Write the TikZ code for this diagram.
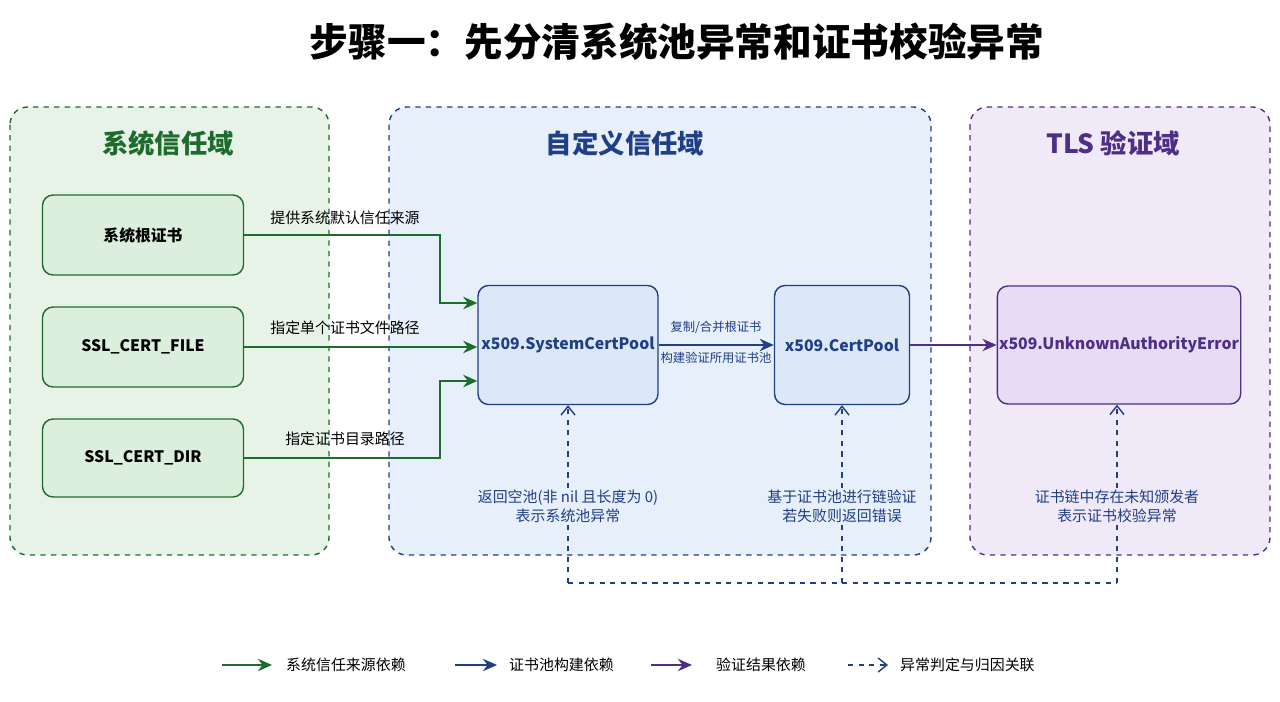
\documentclass[tikz,border=0pt]{standalone}
\usepackage{fontspec}
\setmainfont{Noto Sans CJK SC}
\usetikzlibrary{arrows.meta,positioning,backgrounds}
\definecolor{gdark}{HTML}{1E6B2E}
\definecolor{gfill}{HTML}{E6F3E6}
\definecolor{gbox}{HTML}{DCEEDC}
\definecolor{bdark}{HTML}{1F3F86}
\definecolor{bfill}{HTML}{E6EFFA}
\definecolor{bbox}{HTML}{DCE8F8}
\definecolor{pdark}{HTML}{4E2E86}
\definecolor{pfill}{HTML}{F0EAF8}
\definecolor{pbox}{HTML}{E6DCF3}
\tikzset{
  domain/.style={draw=#1,dashed,thick,rounded corners=10pt},
  box/.style={draw=#1,thick,rounded corners=6pt,align=center,inner sep=1pt,font=\bfseries\fontsize{9}{12}\selectfont},
  garrow/.style={-{Stealth[length=8pt,width=7pt]},very thick,draw=gdark},
  barrow/.style={-{Stealth[length=8pt,width=7pt]},very thick,draw=bdark},
  parrow/.style={-{Stealth[length=8pt,width=7pt]},very thick,draw=pdark},
  darrow/.style={-{Straight Barb[length=5pt,width=8pt]},dashed,thick,draw=bdark},
  lbl/.style={font=\fontsize{8.5}{11}\selectfont,align=center},
  ttl/.style={font=\bfseries\fontsize{15}{18}\selectfont}
}
\begin{document}
\begin{tikzpicture}[x=0.02cm,y=-0.02cm]
  \useasboundingbox (0,0) rectangle (1280,702);
  \node[font=\bfseries\fontsize{22}{26}\selectfont] (title) at (677,42) {步骤一：先分清系统池异常和证书校验异常};

  % domains
  \draw[domain=gdark,fill=gfill] (10,107) rectangle (329,555);
  \draw[domain=bdark,fill=bfill] (389,107) rectangle (931,555);
  \draw[domain=pdark,fill=pfill] (970,107) rectangle (1270,555);
  \node[ttl,text=gdark] (gtitle) at (168,143) {系统信任域};
  \node[ttl,text=bdark] (btitle) at (625,143) {自定义信任域};
  \node[ttl,text=pdark] (ptitle) at (1113,143) {TLS 验证域};

  % nodes
  \node[box=gdark,fill=gbox,minimum width=4.02cm,minimum height=1.6cm] (root) at (143,235) {系统根证书};
  \node[box=gdark,fill=gbox,minimum width=4.02cm,minimum height=1.6cm] (file) at (143,347) {SSL\_CERT\_FILE};
  \node[box=gdark,fill=gbox,minimum width=4.02cm,minimum height=1.56cm] (dir) at (143,458) {SSL\_CERT\_DIR};
  \node[box=bdark,fill=bbox,text=bdark,minimum width=3.6cm,minimum height=2.38cm] (sys) at (568,345) {x509.SystemCertPool};
  \node[box=bdark,fill=bbox,text=bdark,minimum width=2.7cm,minimum height=2.38cm] (pool) at (842,345) {x509.CertPool};
  \node[box=pdark,fill=pbox,text=pdark,minimum width=4.8cm,minimum height=2.36cm] (err) at (1119,345) {x509.UnknownAuthorityError};

  % green connectors
  \draw[garrow] (root.east) -| (440,303) -- (sys.west |- 0,303);
  \draw[garrow] (file.east) -- (sys.west |- file.east);
  \draw[garrow] (dir.east) -| (440,381) -- (sys.west |- 0,381);
  \node[lbl,text=black] (l1) at (345,218) {提供系统默认信任来源};
  \node[lbl,text=black] (l2) at (345,328) {指定单个证书文件路径};
  \node[lbl,text=black] (l3) at (345,439) {指定证书目录路径};

  % blue / purple connectors
  \draw[barrow] (sys.east) -- (pool.west);
  \node[lbl,text=bdark,font=\fontsize{7}{9}\selectfont] (l4) at (716,327) {复制/合并根证书};
  \node[lbl,text=bdark,font=\fontsize{7}{9}\selectfont] (l5) at (716,358) {构建验证所用证书池};
  \draw[parrow] (pool.east) -- (err.west);

  % dashed attribution
  \coordinate (d1) at (568,583);
  \coordinate (d2) at (842,583);
  \coordinate (d3) at (1117,583);
  \draw[dashed,thick,bdark] (d1) -- (d3);
  \draw[darrow] (d1) -- (sys.south);
  \draw[darrow] (d2) -- (pool.south);
  \draw[darrow] (d3) -- (d3 |- err.south);
  \node[lbl,text=bdark,fill=bfill,inner sep=1pt] (n1) at (568,506) {返回空池(非 nil 且长度为 0)\\表示系统池异常};
  \node[lbl,text=bdark,fill=bfill,inner sep=1pt] (n2) at (842,506) {基于证书池进行链验证\\若失败则返回错误};
  \node[lbl,text=bdark,fill=pfill,inner sep=1pt] (n3) at (1117,506) {证书链中存在未知颁发者\\表示证书校验异常};

  % legend
  \coordinate (g1) at (222,665); \coordinate (g2) at (272,665);
  \coordinate (b1) at (455,665); \coordinate (b2) at (497,665);
  \coordinate (p1) at (651,665); \coordinate (p2) at (692,665);
  \coordinate (q1) at (848,665); \coordinate (q2) at (888,665);
  \draw[garrow] (g1) -- (g2);
  \draw[barrow] (b1) -- (b2);
  \draw[parrow] (p1) -- (p2);
  \draw[darrow] (q1) -- (q2);
  \node[lbl,anchor=west] (t1) at (280,665) {系统信任来源依赖};
  \node[lbl,anchor=west] (t2) at (503,665) {证书池构建依赖};
  \node[lbl,anchor=west] (t3) at (710,665) {验证结果依赖};
  \node[lbl,anchor=west] (t4) at (894,665) {异常判定与归因关联};
\end{tikzpicture}
\end{document}
